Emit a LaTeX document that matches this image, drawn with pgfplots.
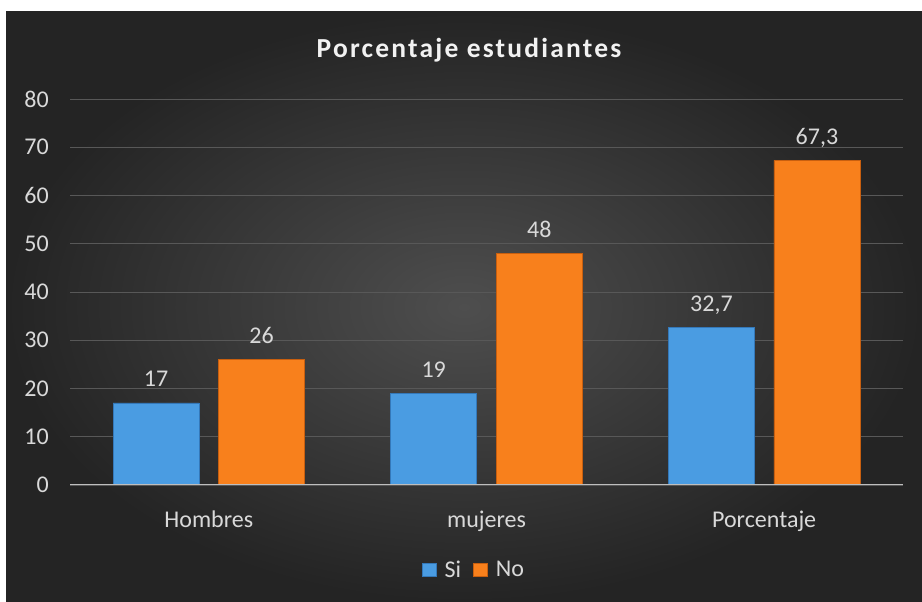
\documentclass[border=0pt]{standalone}
\usepackage{pgfplots}
\pgfplotsset{compat=1.18}
\usepackage{fontspec}
\setmainfont{Carlito}
\newfontfamily\titlefont[LetterSpace=8]{Carlito}
\definecolor{bgin}{RGB}{78,78,78}
\definecolor{bgout}{RGB}{36,36,36}
\definecolor{gridc}{RGB}{88,88,88}
\definecolor{txt}{RGB}{217,217,217}
\definecolor{ttl}{RGB}{242,242,242}
\definecolor{siblue}{RGB}{74,156,226}
\definecolor{sibluedk}{RGB}{52,120,185}
\definecolor{noorange}{RGB}{248,128,28}
\definecolor{noorangedk}{RGB}{200,95,15}
\definecolor{zeroline}{RGB}{190,190,190}
\begin{document}
\begin{tikzpicture}[x=1pt,y=1pt]
\useasboundingbox (0,0) rectangle (922,602);
\fill[white] (0,0) rectangle (922,602);
\shade[inner color=bgin, outer color=bgout] (6,0) rectangle (922,590);
\node[anchor=base, text=ttl, font={\titlefont\bfseries\fontsize{27.5}{32}\selectfont}] at (469,544) {Porcentaje estudiantes};
\begin{axis}[
  at={(70pt,117pt)}, anchor=south west,
  scale only axis, width=833pt, height=386pt,
  xmin=-0.5, xmax=2.5, ymin=0, ymax=80,
  ytick={0,10,...,80},
  xtick={0,1,2}, xticklabels={Hombres,mujeres,Porcentaje},
  axis line style={draw=none},
  tick style={draw=none},
  ymajorgrids, grid style={gridc, line width=0.8pt},
  /pgf/number format/use comma,
  /pgf/number format/assume math mode=true,
  ticklabel style={text=txt, font=\fontsize{24}{28}\selectfont},
  yticklabel style={anchor=east, inner sep=0pt, xshift=-21pt},
  xticklabel style={anchor=base, inner sep=0pt, yshift=-38pt},
  ybar, bar width=0.31,
  nodes near coords,
  every node near coord/.append style={anchor=base, inner sep=0pt, yshift=16pt, text=txt, font=\fontsize{24}{28}\selectfont},
  legend style={at={(0.485,-0.22)}, anchor=center, draw=none, fill=none,
    legend columns=-1, text=txt, font=\fontsize{24}{28}\selectfont,
    /tikz/every odd column/.append style={column sep=6pt},
    /tikz/every even column/.append style={column sep=10pt}},
  legend image code/.code={\fill[#1] (0pt,-6.5pt) rectangle (14pt,6.5pt);},
]
\addplot[fill=siblue, draw=sibluedk, line width=0.6pt, bar shift=-0.19] coordinates {(0,17) (1,19) (2,32.7)};
\addlegendentry{Si}
\addplot[fill=noorange, draw=noorangedk, line width=0.6pt, bar shift=0.19] coordinates {(0,26) (1,48) (2,67.3)};
\addlegendentry{No}
\draw[zeroline, line width=2pt] (axis cs:-0.5,0) -- (axis cs:2.5,0);
\end{axis}
\end{tikzpicture}
\end{document}
